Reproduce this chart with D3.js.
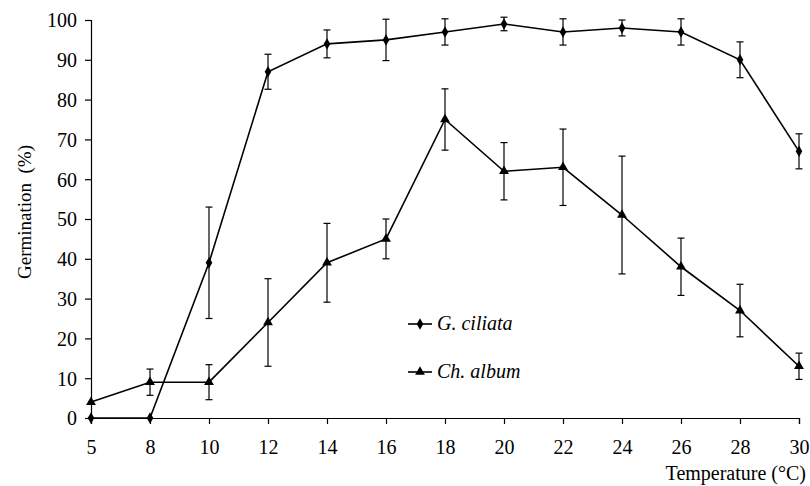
<!DOCTYPE html>
<html>
<head>
<meta charset="utf-8">
<script src="https://cdn.jsdelivr.net/npm/d3@7"></script>
<style>
  body { margin: 0; background: #fff; }
</style>
</head>
<body>
<div id="chart"></div>
<script>
var temps = ['5', '8', '10', '12', '14', '16', '18', '20', '22', '24', '26', '28', '30'];
var ciliata = [0, 0, 39, 87, 94, 95, 97, 99, 97, 98, 97, 90, 67];
var ciliataErr = [0, 0, 14, 4.4, 3.5, 5.2, 3.3, 1.7, 3.3, 2, 3.3, 4.5, 4.4];
var album = [4, 9, 9, 24, 39, 45, 75, 62, 63, 51, 38, 27, 13];
var albumErr = [0, 3.3, 4.4, 11, 9.9, 5, 7.7, 7.2, 9.6, 14.8, 7.2, 6.6, 3.3];
var yTicks = [0, 10, 20, 30, 40, 50, 60, 70, 80, 90, 100];

var width = 810, height = 486;
var fontName = 'Liberation Serif';

var svg = d3.select('#chart')
    .append('svg')
    .attr('width', width)
    .attr('height', height)
    .style('font-family', fontName);

var x = d3.scalePoint().domain(temps).range([91, 799]).padding(0);
var y = d3.scaleLinear().domain([0, 100]).range([418, 20]);

// axes
var xAxis = svg.append('g')
    .attr('transform', 'translate(0,418)')
    .call(d3.axisBottom(x).tickSize(6).tickPadding(16));
var yAxis = svg.append('g')
    .attr('transform', 'translate(91,0)')
    .call(d3.axisLeft(y).tickValues(yTicks).tickSize(6).tickPadding(8));

[xAxis, yAxis].forEach(function(a) {
    a.attr('font-family', null).attr('font-size', 20);
    a.select('.domain').attr('stroke', '#000').attr('stroke-width', 1.2);
    a.selectAll('.tick line').attr('stroke', '#000').attr('stroke-width', 1.2);
    a.selectAll('.tick text')
        .attr('fill', '#000')
        .attr('font-family', fontName);
});
yAxis.selectAll('.tick text').attr('dy', '0.34em');

// titles
svg.append('text')
    .attr('transform', 'translate(31,212) rotate(-90)')
    .attr('text-anchor', 'middle')
    .attr('font-family', fontName)
    .attr('font-size', 19)
    .attr('xml:space', 'preserve')
    .text('Germination  (%)');

svg.append('text')
    .attr('x', 806)
    .attr('y', 480)
    .attr('text-anchor', 'end')
    .attr('font-family', fontName)
    .attr('font-size', 20)
    .text('Temperature (°C)');

var series = [
    { name: 'G. ciliata', values: ciliata, err: ciliataErr, symbol: d3.symbolDiamond, size: 38 },
    { name: 'Ch. album', values: album, err: albumErr, symbol: d3.symbolTriangle, size: 42 }
];

var line = d3.line()
    .x(function(d) { return x(d.t); })
    .y(function(d) { return y(d.v); });

series.forEach(function(s) {
    var pts = temps.map(function(t, i) {
        return { t: t, v: s.values[i], e: s.err[i] };
    });
    var g = svg.append('g');

    // error bars
    var eb = g.selectAll('.err')
        .data(pts.filter(function(d) { return d.e > 0; }))
        .enter()
        .append('g')
        .attr('stroke', '#000')
        .attr('stroke-width', 1.2);
    eb.append('line')
        .attr('x1', function(d) { return x(d.t); })
        .attr('x2', function(d) { return x(d.t); })
        .attr('y1', function(d) { return y(d.v + d.e); })
        .attr('y2', function(d) { return y(d.v - d.e); });
    [1, -1].forEach(function(sign) {
        eb.append('line')
            .attr('x1', function(d) { return x(d.t) - 3.5; })
            .attr('x2', function(d) { return x(d.t) + 3.5; })
            .attr('y1', function(d) { return y(d.v + sign * d.e); })
            .attr('y2', function(d) { return y(d.v + sign * d.e); });
    });

    g.append('path')
        .datum(pts)
        .attr('d', line)
        .attr('fill', 'none')
        .attr('stroke', '#000')
        .attr('stroke-width', 1.6);

    g.selectAll('.pt')
        .data(pts)
        .enter()
        .append('path')
        .attr('transform', function(d) { return 'translate(' + x(d.t) + ',' + y(d.v) + ')'; })
        .attr('d', d3.symbol().type(s.symbol).size(s.size))
        .attr('fill', '#000');
});

// legend
var legend = svg.selectAll('.legend')
    .data(series)
    .enter()
    .append('g')
    .attr('transform', function(d, i) { return 'translate(408,' + (324 + i * 48) + ')'; });
legend.append('line')
    .attr('x1', 0).attr('x2', 24)
    .attr('stroke', '#000').attr('stroke-width', 1.6);
legend.append('path')
    .attr('transform', 'translate(12,0)')
    .attr('d', function(d) { return d3.symbol().type(d.symbol).size(d.size)(); })
    .attr('fill', '#000');
legend.append('text')
    .attr('x', 29)
    .attr('y', 6)
    .attr('font-family', fontName)
    .attr('font-size', 20)
    .attr('font-style', 'italic')
    .text(function(d) { return d.name; });
</script>
</body>
</html>
